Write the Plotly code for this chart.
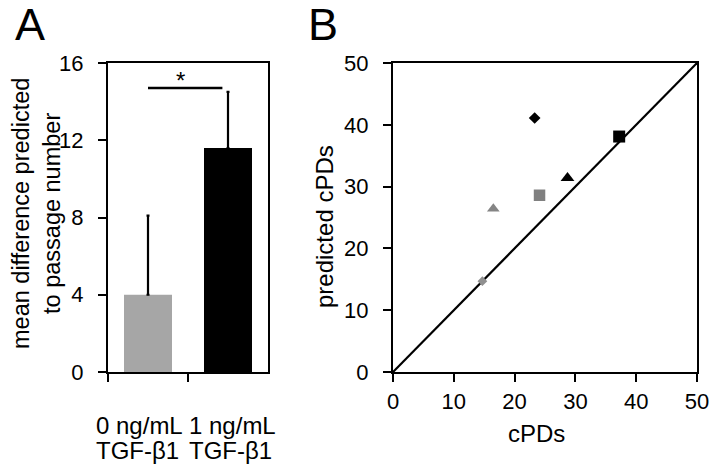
import plotly.graph_objects as go

# ---- data ----
bar_categories = ["0 ng/mL", "1 ng/mL"]
bar_subtitles = ["TGF-β1", "TGF-β1"]
bar_values = [4.0, 11.6]
bar_errors = [4.1, 2.9]
bar_colors = ["#a6a6a6", "#000000"]
bar_yticks = [0, 4, 8, 12, 16]

sig_y = 14.7
sig_x_end = 0.93

scatter_x = [23.3, 37.2, 28.7, 24.1, 16.5, 14.7]
scatter_y = [41.1, 38.1, 31.4, 28.6, 26.4, 14.7]
scatter_symbols = ["diamond", "square", "triangle-up", "square", "triangle-up", "diamond"]
scatter_colors = ["#000000", "#000000", "#000000", "#808080", "#858585", "#909090"]
scatter_sizes = [9, 12, 12, 11.5, 11, 7.5]
identity_line = [0, 50]
scatter_ticks = [0, 10, 20, 30, 40, 50]

W, H = 717, 473
FONT = "Arial, Liberation Sans, sans-serif"

fig = go.Figure()

fig.add_trace(go.Bar(
    x=bar_categories, y=bar_values, width=0.6,
    marker=dict(color=bar_colors, line=dict(width=0)),
    error_y=dict(type="data", array=bar_errors, arrayminus=[0, 0], symmetric=False,
                 color="black", thickness=2.2, width=1.5),
    xaxis="x", yaxis="y", showlegend=False,
))

fig.add_trace(go.Scatter(
    x=identity_line, y=identity_line, mode="lines",
    line=dict(color="black", width=2.2), xaxis="x2", yaxis="y2", showlegend=False,
))
fig.add_trace(go.Scatter(
    x=scatter_x, y=scatter_y, mode="markers",
    marker=dict(symbol=scatter_symbols, color=scatter_colors, size=scatter_sizes,
                opacity=1, line=dict(width=0)),
    xaxis="x2", yaxis="y2", showlegend=False,
))

def px_x(p):
    return p / W

def px_y(p):
    return (H - p) / H

axis_common = dict(showline=True, linecolor="black", linewidth=2, mirror=True,
                   ticks="outside", ticklen=8, tickwidth=2, tickcolor="black",
                   showgrid=False, zeroline=False, automargin=False, tickangle=0,
                   tickfont=dict(family=FONT, size=22, color="black"))

cat_font = dict(family=FONT, size=24, color="black")

fig.update_layout(
    template="none",
    width=W, height=H,
    margin=dict(l=0, r=0, t=0, b=0, autoexpand=False),
    paper_bgcolor="white", plot_bgcolor="white",
    font=dict(family=FONT, color="black"),
    xaxis=dict(domain=[px_x(108), px_x(268)], type="category", tickson="boundaries",
               range=[-0.5, 1.5], showticklabels=False, anchor="y", **axis_common),
    yaxis=dict(domain=[px_y(372), px_y(63)], range=[0, 16], tickvals=bar_yticks,
               ticklabelstandoff=10, anchor="x", **axis_common),
    xaxis2=dict(domain=[px_x(393), px_x(697)], range=[0, 50], tickvals=scatter_ticks,
                ticklabelstandoff=1, anchor="y2", **axis_common),
    yaxis2=dict(domain=[px_y(372), px_y(63)], range=[0, 50], tickvals=scatter_ticks,
                ticklabelstandoff=10, anchor="x2", **axis_common),
)

# category labels (left-aligned blocks, as in the reference)
label_shift = [-54, -41]
for cat, sub, sh in zip(bar_categories, bar_subtitles, label_shift):
    fig.add_annotation(xref="x", yref="paper", x=cat, y=px_y(425), text=cat,
                       xanchor="left", yanchor="middle", xshift=sh, showarrow=False,
                       font=cat_font)
    fig.add_annotation(xref="x", yref="paper", x=cat, y=px_y(450), text=sub,
                       xanchor="left", yanchor="middle", xshift=sh, showarrow=False,
                       font=cat_font)

# significance bar
fig.add_shape(type="line", xref="x", yref="y", x0=0, x1=sig_x_end, y0=sig_y, y1=sig_y,
              line=dict(color="black", width=2.5))
fig.add_annotation(xref="x", yref="y", x=0.4, y=sig_y, text="*", showarrow=False,
                   yanchor="bottom", yshift=-8, font=dict(family=FONT, size=24, color="black"))

# axis titles
fig.add_annotation(xref="paper", yref="paper", x=px_x(36), y=px_y(214),
                   text="mean difference predicted<br>to passage number", textangle=-90,
                   showarrow=False, xanchor="center", yanchor="middle",
                   font=dict(family=FONT, size=23.5, color="black"))
fig.add_annotation(xref="paper", yref="paper", x=px_x(324), y=px_y(227),
                   text="predicted cPDs", textangle=-90,
                   showarrow=False, xanchor="center", yanchor="middle",
                   font=dict(family=FONT, size=24, color="black"))
fig.add_annotation(xref="paper", yref="paper", x=px_x(536), y=px_y(433),
                   text="cPDs", showarrow=False, xanchor="center", yanchor="middle",
                   font=dict(family=FONT, size=24, color="black"))

# panel letters
fig.add_annotation(xref="paper", yref="paper", x=px_x(30), y=px_y(24), text="A",
                   showarrow=False, xanchor="center", yanchor="middle",
                   font=dict(family=FONT, size=45, color="black"))
fig.add_annotation(xref="paper", yref="paper", x=px_x(323), y=px_y(24), text="B",
                   showarrow=False, xanchor="center", yanchor="middle",
                   font=dict(family=FONT, size=45, color="black"))

fig.write_html("out.html", config={"displayModeBar": False},
               post_script="document.body.style.margin='0';")
